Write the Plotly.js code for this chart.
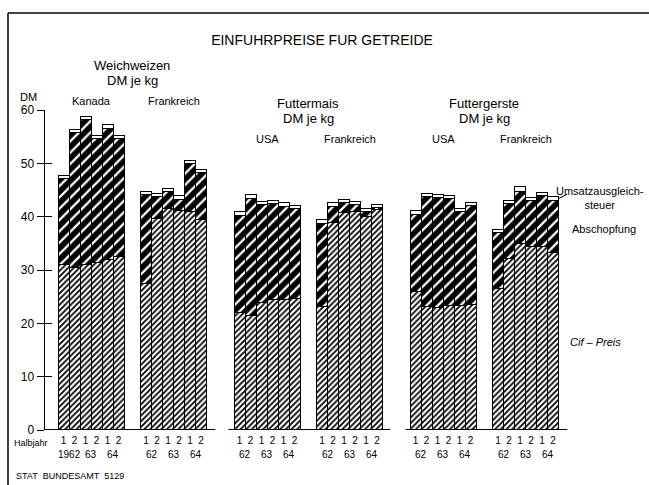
<!DOCTYPE html>
<html>
<head>
<meta charset="utf-8">
<script src="https://cdn.plot.ly/plotly-3.0.1.min.js"></script>
<style>html,body{margin:0;padding:0;background:#fff;}#chart{width:649px;height:485px;}</style>
</head>
<body>
<div id="chart"></div>
<script>
// ---- data ----
var products = ["Weichweizen", "Futtermais", "Futtergerste"];
var unitLabel = "DM je kg";
var countries = [["Kanada", "Frankreich"], ["USA", "Frankreich"], ["USA", "Frankreich"]];
var halfLabels = ["1", "2", "1", "2", "1", "2"];
var yearLabelsFirst = ["1962", "63", "64"];
var yearLabels = ["62", "63", "64"];
// order: Weizen Kanada, Weizen Frankreich, Mais USA, Mais Frankreich, Gerste USA, Gerste Frankreich
var cifPreis = [
  31.0, 30.5, 31.0, 31.5, 32.0, 32.5,
  27.5, 39.7, 41.6, 41.2, 40.9, 39.5,
  22.1, 21.5, 24.0, 24.4, 24.5, 24.7,
  23.1, 39.0, 40.7, 40.9, 40.0, 41.3,
  25.9, 23.1, 22.9, 23.4, 23.4, 23.6,
  26.6, 32.2, 35.0, 34.4, 34.5, 33.3
];
var abschoepfung = [
  16.2, 25.3, 27.2, 23.2, 24.6, 22.1,
  16.7, 4.1, 3.1, 2.1, 9.1, 8.8,
  18.2, 22.0, 18.2, 18.0, 17.5, 16.8,
  15.7, 3.0, 2.0, 1.3, 1.0, 0.4,
  14.6, 20.7, 20.7, 20.0, 17.6, 18.5,
  10.4, 10.2, 9.8, 8.6, 9.5, 9.8
];
var umsatzsteuer = [
  0.6, 0.6, 0.6, 0.6, 0.6, 0.6,
  0.6, 0.6, 0.6, 0.6, 0.6, 0.6,
  0.6, 0.6, 0.6, 0.6, 0.6, 0.6,
  0.6, 0.6, 0.6, 0.6, 0.6, 0.6,
  0.6, 0.6, 0.6, 0.6, 0.6, 0.6,
  0.6, 0.6, 0.9, 0.6, 0.5, 0.6
];
var seriesNames = ["Cif \u2013 Preis", "Abschopfung", "Umsatzausgleich-<br>steuer"];

// ---- layout helpers ----
var PRODUCT_STEP = 16, COUNTRY_STEP = 7.5;
function groupStart(p, c) { return p * PRODUCT_STEP + c * COUNTRY_STEP; }
var xs = [], tickText = [];
for (var p = 0; p < 3; p++) for (var c = 0; c < 2; c++) for (var i = 0; i < 6; i++) {
  xs.push(groupStart(p, c) + i + 0.5);
  tickText.push(halfLabels[i]);
}
var FONT = "'Liberation Sans Narrow', 'Liberation Sans', Arial, sans-serif";
var PW = 525, PH = 320, L = 45, T = 110;
function px2paperX(px) { return (px - L) / PW; }
function px2paperY(py) { return (T + PH - py) / PH; }

var traceBase = {type: "bar", x: xs, width: 1, hoverinfo: "skip", showlegend: false};
var traces = [
  Object.assign({}, traceBase, {y: cifPreis, name: seriesNames[0],
    marker: {color: "white", line: {color: "black", width: 1},
      pattern: {shape: "/", fgcolor: "black", bgcolor: "white", size: 4, solidity: 0.45}}}),
  Object.assign({}, traceBase, {y: abschoepfung, name: seriesNames[1],
    marker: {color: "black", line: {color: "black", width: 1},
      pattern: {shape: "/", fgcolor: "white", bgcolor: "black", size: 8, solidity: 0.28}}}),
  Object.assign({}, traceBase, {y: umsatzsteuer, name: seriesNames[2],
    marker: {color: "white", line: {color: "black", width: 1}}})
];

var annotations = [];
function ann(o) {
  var base = {showarrow: false, xanchor: "center", yanchor: "middle", font: {family: FONT, size: 12, color: "black"}};
  annotations.push(Object.assign(base, o));
}

// product titles and country labels
var titleY = [[65, 80, 101], [104, 118, 139], [104, 118, 139]];
for (var p = 0; p < 3; p++) {
  var center = p * PRODUCT_STEP + (COUNTRY_STEP + 6) / 2;
  ann({xref: "x", yref: "paper", x: center, y: px2paperY(titleY[p][0]), text: products[p], font: {family: FONT, size: 13, color: "black"}});
  ann({xref: "x", yref: "paper", x: center, y: px2paperY(titleY[p][1]), text: unitLabel, font: {family: FONT, size: 13, color: "black"}});
  for (var c = 0; c < 2; c++) {
    ann({xref: "x", yref: "paper", x: groupStart(p, c) + 3, y: px2paperY(titleY[p][2]), text: countries[p][c], font: {family: FONT, size: 11, color: "black"}});
    var yl = (p === 0 && c === 0) ? yearLabelsFirst : yearLabels;
    for (var k = 0; k < 3; k++) {
      ann({xref: "x", yref: "paper", x: groupStart(p, c) + 2 * k + 1, y: px2paperY(454), text: yl[k], font: {family: FONT, size: 10, color: "black"}});
    }
  }
}
ann({xref: "paper", yref: "paper", x: px2paperX(28), y: px2paperY(97), text: "DM", font: {family: FONT, size: 11, color: "black"}});
ann({xref: "paper", yref: "paper", x: px2paperX(31), y: px2paperY(443), text: "Halbjahr", font: {family: FONT, size: 9, color: "black"}});
ann({xref: "paper", yref: "paper", x: px2paperX(14), y: px2paperY(476), xanchor: "left", text: "STAT&#160;&#160;BUNDESAMT&#160;&#160;5129", font: {family: FONT, size: 9, color: "black"}});
ann({xref: "paper", yref: "paper", x: px2paperX(600), y: px2paperY(198), align: "center", text: seriesNames[2], font: {family: FONT, size: 11, color: "black"}});
ann({xref: "paper", yref: "paper", x: px2paperX(570), y: px2paperY(229), xanchor: "left", text: seriesNames[1], font: {family: FONT, size: 11, color: "black"}});
ann({xref: "paper", yref: "paper", x: px2paperX(568), y: px2paperY(342), xanchor: "left", text: "<i>" + seriesNames[0] + "</i>", font: {family: FONT, size: 11, color: "black"}});

var lastBar = xs.length - 1;
var topLast = cifPreis[lastBar] + abschoepfung[lastBar] + umsatzsteuer[lastBar];
var shapes = [
  // frame
  {type: "line", xref: "paper", yref: "paper", x0: px2paperX(8), x1: px2paperX(8), y0: px2paperY(13), y1: px2paperY(485), line: {color: "black", width: 1.5}},
  {type: "line", xref: "paper", yref: "paper", x0: px2paperX(8), x1: px2paperX(649), y0: px2paperY(13), y1: px2paperY(13), line: {color: "black", width: 1.5}},
  // leader line for Umsatzausgleichsteuer
  {type: "line", xref: "x", yref: "y", x0: xs[lastBar] + 0.5, y0: topLast - 0.3, x1: xs[lastBar] + 1.3, y1: topLast + 0.5,
    line: {color: "black", width: 1}}
];
// baselines per product
var baseExt = [[-1.2, 0.8], [-0.5, 0.7], [-0.4, 0.8]];
for (var p = 0; p < 3; p++) {
  shapes.push({type: "line", xref: "x", yref: "y", x0: p * PRODUCT_STEP + baseExt[p][0], x1: p * PRODUCT_STEP + COUNTRY_STEP + 6 + baseExt[p][1], y0: 0, y1: 0, line: {color: "black", width: 2}});
}

var yTicks = [0, 10, 20, 30, 40, 50, 60];
var layout = {
  width: 649, height: 485,
  margin: {l: L, r: 649 - L - PW, t: T, b: 485 - T - PH, pad: 0},
  paper_bgcolor: "white", plot_bgcolor: "white",
  font: {family: FONT, color: "black"},
  barmode: "stack", bargap: 0,
  title: {text: "EINFUHRPREISE FUR GETREIDE", x: 322 / 649, xanchor: "center", y: 1 - 40 / 485, yanchor: "middle", yref: "container",
    font: {family: FONT, size: 14, color: "black"}},
  xaxis: {range: [-13 / 11, -13 / 11 + PW / 11], showgrid: false, zeroline: false, showline: false,
    tickmode: "array", tickvals: xs, ticktext: tickText, ticks: "", tickangle: 0, tickfont: {size: 10, family: FONT}, ticklabelstandoff: 3, fixedrange: true},
  yaxis: {range: [0, 60], showgrid: false, zeroline: false, showline: true, linecolor: "black", linewidth: 1.5,
    tickmode: "array", tickvals: yTicks, ticks: "outside", ticklen: 7, tickwidth: 1, tickcolor: "black", tickfont: {size: 12, family: FONT}, fixedrange: true},
  yaxis2: {range: [0, 60], overlaying: "y", side: "left", showgrid: false, zeroline: false, showline: false, showticklabels: false,
    tickmode: "array", tickvals: yTicks, ticks: "inside", ticklen: 7, tickwidth: 1, tickcolor: "black"},
  annotations: annotations,
  shapes: shapes
};
// invisible trace to activate yaxis2 (inside tick marks)
traces.push({type: "scatter", x: [xs[0]], y: [0], yaxis: "y2", mode: "markers", marker: {opacity: 0}, hoverinfo: "skip", showlegend: false});

Plotly.newPlot("chart", traces, layout, {staticPlot: true, displayModeBar: false});
</script>
</body>
</html>
